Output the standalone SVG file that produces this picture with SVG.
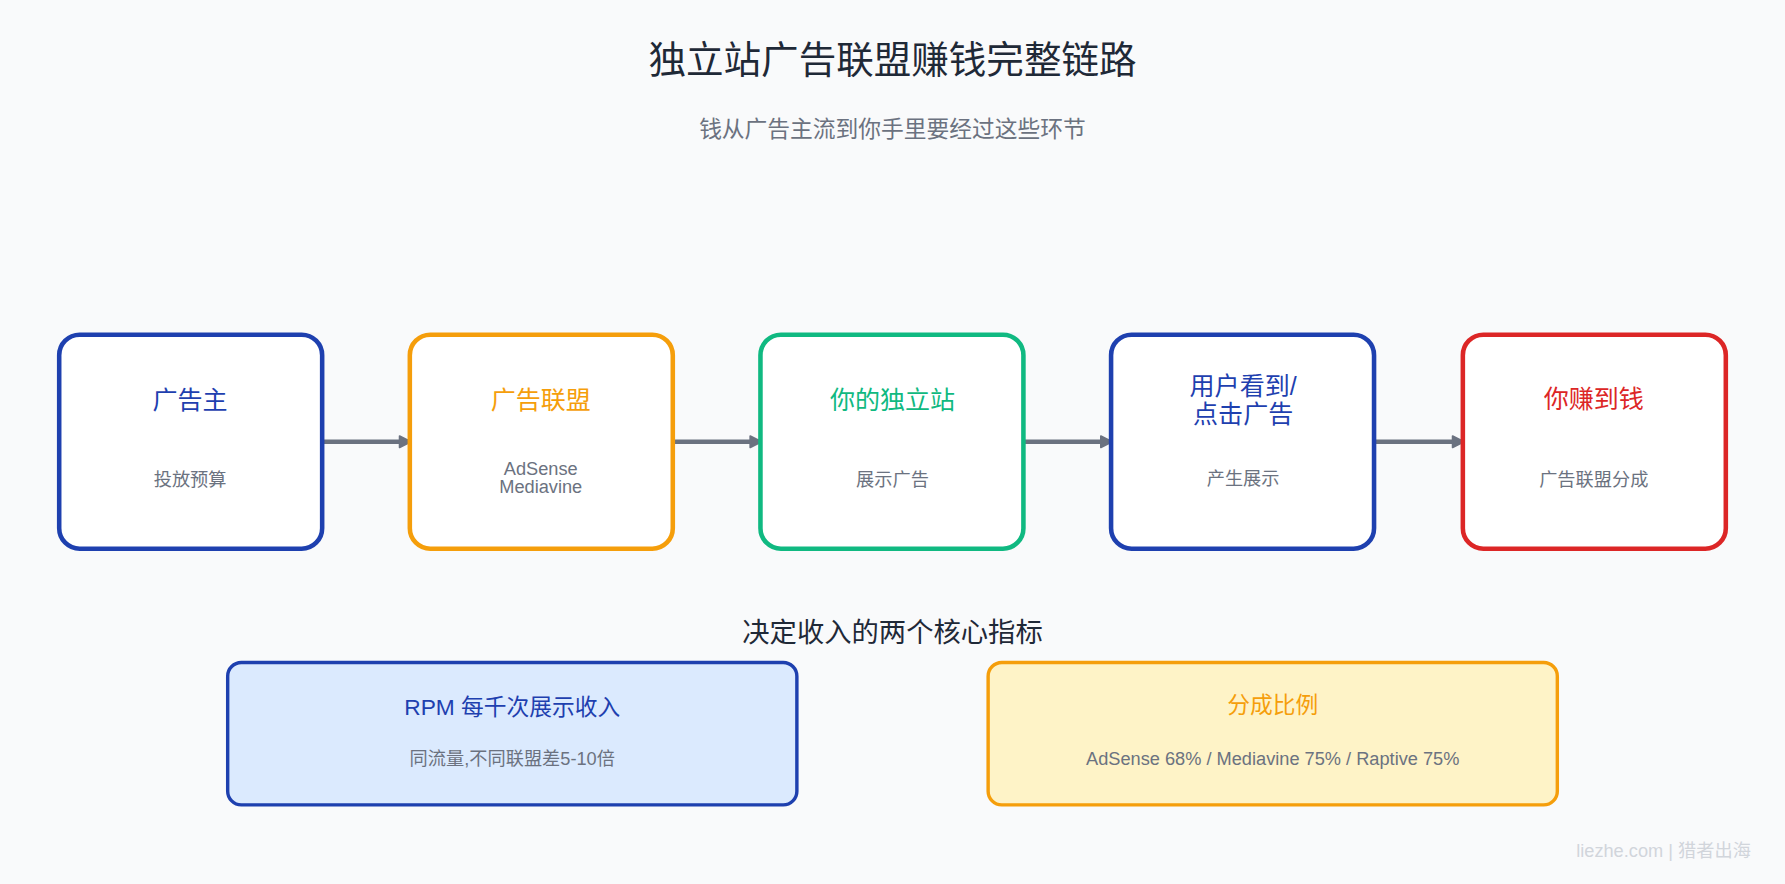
<svg xmlns="http://www.w3.org/2000/svg" width="1785" height="884" viewBox="0 0 1785 884">
<style>
text{font-family:"Liberation Sans","Noto Sans CJK SC",sans-serif;text-anchor:middle}
.t{font-size:22px}.s{font-size:16px;fill:#6b7280}
.n{fill:#fff;stroke-width:4}
.c{stroke:#6b7280;stroke-width:4;fill:none;marker-end:url(#a)}
</style>
<defs><marker id="a" markerWidth="12" markerHeight="12" refX="10" refY="6" orient="auto" markerUnits="userSpaceOnUse"><path d="M1,1 L11,6 L1,11 z" fill="#6b7280" stroke="#6b7280" stroke-width="1.5" stroke-linejoin="round"/></marker></defs>
<rect width="1785" height="884" fill="#f9fafb"/>
<g transform="scale(1.1384)">
<text x="784" y="64" font-size="33" fill="#1f2937">独立站广告联盟赚钱完整链路</text>
<text x="784" y="120" font-size="20" fill="#6b7280">钱从广告主流到你手里要经过这些环节</text>
<g id="connectors">
<line class="c" x1="280" y1="388" x2="360" y2="388"/>
<line class="c" x1="588" y1="388" x2="668" y2="388"/>
<line class="c" x1="896" y1="388" x2="976" y2="388"/>
<line class="c" x1="1205" y1="388" x2="1285" y2="388"/>
</g>
<g id="n1"><rect class="n" x="52" y="294" width="231" height="188" rx="18" stroke="#1e40af"/><text class="t" x="167" y="359" fill="#1e40af">广告主</text><text class="s" x="167" y="427">投放预算</text></g>
<g id="n2"><rect class="n" x="360" y="294" width="231" height="188" rx="18" stroke="#f59e0b"/><text class="t" x="475" y="359" fill="#f59e0b">广告联盟</text><text class="s" x="475" y="417">AdSense</text><text class="s" x="475" y="433">Mediavine</text></g>
<g id="n3"><rect class="n" x="668" y="294" width="231" height="188" rx="18" stroke="#10b981"/><text class="t" x="784" y="359" fill="#10b981">你的独立站</text><text class="s" x="784" y="427">展示广告</text></g>
<g id="n4"><rect class="n" x="976" y="294" width="231" height="188" rx="18" stroke="#1e40af"/><text class="t" x="1092" y="347" fill="#1e40af">用户看到/</text><text class="t" x="1092" y="372" fill="#1e40af">点击广告</text><text class="s" x="1092" y="426">产生展示</text></g>
<g id="n5"><rect class="n" x="1285" y="294" width="231" height="188" rx="18" stroke="#dc2626"/><text class="t" x="1400" y="358" fill="#dc2626">你赚到钱</text><text class="s" x="1400" y="427">广告联盟分成</text></g>
<text x="784" y="564" font-size="24" fill="#1f2937">决定收入的两个核心指标</text>
<g id="m1"><rect x="200" y="582" width="500" height="125" rx="12" fill="#dbeafe" stroke="#1e40af" stroke-width="3"/><text x="450" y="628" font-size="20" fill="#1e40af">RPM 每千次展示收入</text><text class="s" x="450" y="672">同流量,不同联盟差5-10倍</text></g>
<g id="m2"><rect x="868" y="582" width="500" height="125" rx="12" fill="#fef3c7" stroke="#f59e0b" stroke-width="3"/><text x="1118" y="626" font-size="20" fill="#f59e0b">分成比例</text><text class="s" x="1118" y="672">AdSense 68% / Mediavine 75% / Raptive 75%</text></g>
<text x="1538" y="753" font-size="16" fill="#d1d5db" style="text-anchor:end">liezhe.com | 猎者出海</text>
</g>
</svg>
